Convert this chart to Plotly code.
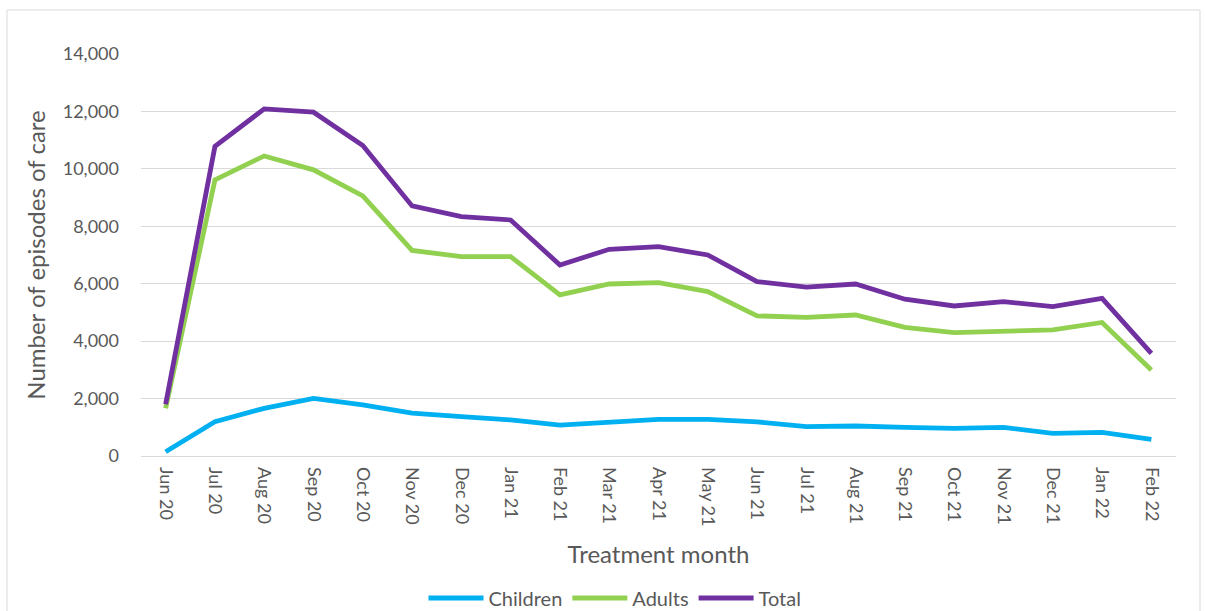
import plotly.graph_objects as go

months = ["Jun 20", "Jul 20", "Aug 20", "Sep 20", "Oct 20", "Nov 20", "Dec 20",
          "Jan 21", "Feb 21", "Mar 21", "Apr 21", "May 21", "Jun 21", "Jul 21",
          "Aug 21", "Sep 21", "Oct 21", "Nov 21", "Dec 21", "Jan 22", "Feb 22"]

children = [150, 1195, 1660, 2005, 1780, 1495, 1370, 1255, 1075, 1195, 1275,
            1275, 1190, 1020, 1045, 1000, 965, 1000, 790, 825, 580]
adults = [1660, 9615, 10450, 9965, 9060, 7160, 6945, 6945, 5610, 5990, 6040,
          5725, 4880, 4830, 4910, 4480, 4300, 4330, 4390, 4650, 2995]
total = [1800, 10780, 12090, 11975, 10810, 8710, 8340, 8220, 6650, 7200, 7290,
         7000, 6075, 5880, 5990, 5460, 5225, 5375, 5200, 5490, 3575]

y_ticks = [0, 2000, 4000, 6000, 8000, 10000, 12000, 14000]

FONT = "Lato, Carlito, Calibri, sans-serif"
GREY_TEXT = "#595959"

W, H = 1206, 611
ML, MR, MT, MB = 141, 30, 54, 155
PW, PH = W - ML - MR, H - MT - MB


def px_x(x):
    return (x - ML) / PW


def px_y(y):
    return (H - MB - y) / PH


fig = go.Figure()
for name, vals, color in [("Children", children, "#00b0f0"),
                          ("Adults", adults, "#92d050"),
                          ("Total", total, "#7030a0")]:
    fig.add_trace(go.Scatter(x=months, y=vals, name=name, mode="lines",
                             line=dict(color=color, width=4.8)))

# outer chart border
fig.add_shape(type="rect", xref="paper", yref="paper",
              x0=px_x(7), x1=px_x(1200), y0=px_y(640), y1=px_y(10),
              line=dict(color="#d9d9d9", width=1), fillcolor="rgba(0,0,0,0)",
              layer="below")

fig.update_layout(
    width=W, height=H,
    margin=dict(l=ML, r=MR, t=MT, b=MB, autoexpand=False),
    paper_bgcolor="white", plot_bgcolor="white",
    font=dict(family=FONT, color=GREY_TEXT, size=18),
    showlegend=True,
    legend=dict(orientation="h", xanchor="center", yanchor="middle",
                x=px_x(615), y=px_y(598), font=dict(size=20, color=GREY_TEXT),
                itemwidth=55, traceorder="normal"),
    xaxis=dict(
        type="category", range=[-0.5, len(months) - 0.5], automargin=False,
        tickangle=90, tickfont=dict(size=18, color=GREY_TEXT),
        showgrid=False, showline=False, zeroline=False, ticks="",
        ticklabelstandoff=10,
        title=dict(text="Treatment month", font=dict(size=24, color=GREY_TEXT),
                   standoff=20),
    ),
    yaxis=dict(
        range=[0, 14000], tickvals=y_ticks, tickformat=",", automargin=False,
        tickfont=dict(size=18, color=GREY_TEXT),
        showgrid=True, gridcolor="#d9d9d9", gridwidth=1,
        zeroline=True, zerolinecolor="#d9d9d9", zerolinewidth=1,
        showline=False, ticks="", ticklabelstandoff=21,
        title=dict(text="Number of episodes of care",
                   font=dict(size=24, color=GREY_TEXT), standoff=10),
    ),
)

fig.write_html("out.html")
